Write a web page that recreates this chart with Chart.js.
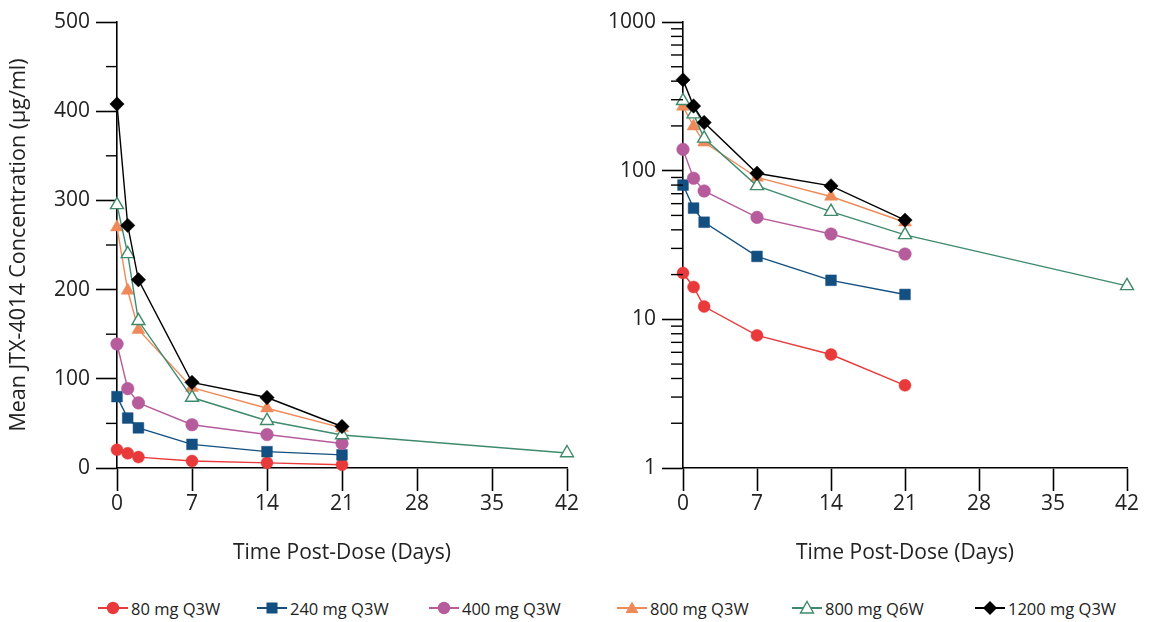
<!DOCTYPE html>
<html>
<head>
<meta charset="utf-8">
<script src="https://cdn.jsdelivr.net/npm/chart.js@4.4.1/dist/chart.umd.min.js"></script>
<style>
  html, body { margin: 0; padding: 0; background: #fff; }
  body { width: 1150px; height: 622px; position: relative; overflow: hidden; font-family: "Open Sans", sans-serif; color: #222; }
  #wrapL { position: absolute; left: 0; top: 0; width: 580px; height: 575px; }
  #wrapR { position: absolute; left: 580px; top: 0; width: 570px; height: 575px; }
  .lg { position: absolute; top: 598px; height: 20px; display: flex; align-items: center; font-size: 16.5px; white-space: nowrap; }
  .lg svg { margin-right: 2px; }
</style>
</head>
<body>
<div id="wrapL"><canvas id="cL"></canvas></div>
<div id="wrapR"><canvas id="cR"></canvas></div>
<div id="legend"></div>
<script>
// ---- data ----
const days = [0, 1, 2, 7, 14, 21];
const daysQ6W = [0, 1, 2, 7, 14, 21, 42];
const conc80Q3W = [20.5, 16.5, 12.2, 7.8, 5.8, 3.6];
const conc240Q3W = [80, 56, 45, 26.5, 18.3, 14.7];
const conc400Q3W = [139, 89, 73, 48.5, 37.5, 27.5];
const conc800Q3W = [270, 199, 155, 90, 67, 45];
const conc800Q6W = [295, 240, 165, 79, 53, 37, 16.8];
const conc1200Q3W = [408, 272, 211, 96, 79, 46.5];
const seriesLabels = ['80 mg Q3W', '240 mg Q3W', '400 mg Q3W', '800 mg Q3W', '800 mg Q6W', '1200 mg Q3W'];
const xTicks = [0, 7, 14, 21, 28, 35, 42];
const linYTicks = [0, 100, 200, 300, 400, 500];
const linYMinor = [50, 150, 250, 350, 450];
const logYTicks = [1, 10, 100, 1000];
const logYMinor = [2,3,4,5,6,7,8,9,20,30,40,50,60,70,80,90,200,300,400,500,600,700,800,900];

// ---- styles ----
const colors = ['#e8393b', '#134f80', '#b65b9b', '#ee8a5a', '#3e8a6c', '#000000'];
const styles = ['circle', 'rect', 'circle', 'triangle', 'triangle', 'rectRot'];
const radii = [6, 7.6, 6.3, 7.5, 7.5, 7.2];
const fills = [colors[0], colors[1], colors[2], colors[3], '#ffffff', colors[5]];
const FONT = "'Open Sans', sans-serif";
const TXT = '#222';

function toXY(xs, ys) { return ys.map((v, i) => ({ x: xs[i], y: v })); }
const seriesData = [
  toXY(days, conc80Q3W), toXY(days, conc240Q3W), toXY(days, conc400Q3W),
  toXY(days, conc800Q3W), toXY(daysQ6W, conc800Q6W), toXY(days, conc1200Q3W)
];

function makeDatasets() {
  return seriesData.map((d, i) => ({
    label: seriesLabels[i],
    data: d,
    borderColor: colors[i],
    backgroundColor: fills[i],
    borderWidth: 1.4,
    pointStyle: styles[i],
    pointRadius: radii[i],
    pointHoverRadius: radii[i],
    pointBackgroundColor: fills[i],
    pointBorderColor: colors[i],
    pointBorderWidth: i === 4 ? 1.4 : 0.5,
    tension: 0,
    clip: false,
    order: 5 - i
  }));
}

const minorTicks = {
  id: 'minorTicks',
  afterDraw(chart, args, opts) {
    const s = chart.scales.y;
    const ctx = chart.ctx;
    ctx.save();
    ctx.strokeStyle = '#000';
    ctx.lineWidth = 1.4;
    for (const v of opts.values) {
      const y = s.getPixelForValue(v);
      ctx.beginPath();
      ctx.moveTo(s.right - opts.len, y);
      ctx.lineTo(s.right, y);
      ctx.stroke();
    }
    ctx.restore();
  }
};

function xScale() {
  return {
    type: 'linear', min: 0, max: 42,
    afterBuildTicks: s => { s.ticks = xTicks.map(v => ({ value: v })); },
    afterFit: s => { s.height = 107; },
    border: { display: true, color: '#000', width: 1.6 },
    grid: { drawOnChartArea: false, drawTicks: true, tickLength: 23, tickColor: '#000', tickWidth: 1.6 },
    ticks: { color: TXT, font: { family: FONT, size: 21 }, padding: 0, maxRotation: 0 },
    title: { display: true, text: 'Time Post-Dose (Days)', color: TXT, font: { family: FONT, size: 21 }, padding: { top: 0, bottom: 9 } }
  };
}

function baseOptions() {
  return {
    responsive: true, maintainAspectRatio: false, animation: false,
    plugins: { legend: { display: false }, tooltip: { enabled: false } },
    events: []
  };
}

// ---- left (linear) ----
const optL = baseOptions();
optL.layout = { padding: { left: 0, top: 22, right: 13, bottom: 0 } };
optL.plugins.minorTicks = { values: linYMinor, len: 11 };
optL.scales = {
  x: xScale(),
  y: {
    type: 'linear', min: 0, max: 500,
    afterBuildTicks: s => { s.ticks = linYTicks.map(v => ({ value: v })); },
    afterFit: s => { s.width = 117; },
    border: { display: true, color: '#000', width: 1.6 },
    grid: { drawOnChartArea: false, drawTicks: true, tickLength: 21, tickColor: '#000', tickWidth: 1.6 },
    ticks: { color: TXT, font: { family: FONT, size: 21 }, padding: 6 },
    title: { display: true, text: 'Mean JTX-4014 Concentration (µg/ml)', color: TXT, font: { family: FONT, size: 21.5 }, padding: { top: 6, bottom: 0 } }
  }
};
new Chart(document.getElementById('cL'), { type: 'line', data: { datasets: makeDatasets() }, options: optL, plugins: [minorTicks] });

// ---- right (log) ----
const optR = baseOptions();
optR.layout = { padding: { left: 0, top: 22, right: 23, bottom: 0 } };
optR.plugins.minorTicks = { values: logYMinor, len: 12 };
optR.scales = {
  x: xScale(),
  y: {
    type: 'logarithmic', min: 1, max: 1000,
    afterBuildTicks: s => { s.ticks = logYTicks.map(v => ({ value: v })); },
    afterFit: s => { s.width = 103; },
    border: { display: true, color: '#000', width: 1.6 },
    grid: { drawOnChartArea: false, drawTicks: true, tickLength: 21, tickColor: '#000', tickWidth: 1.6 },
    ticks: { color: TXT, font: { family: FONT, size: 21 }, padding: 6, callback: v => String(v) }
  }
};
new Chart(document.getElementById('cR'), { type: 'line', data: { datasets: makeDatasets() }, options: optR, plugins: [minorTicks] });

// ---- legend (HTML) ----
const legendX = [97, 256, 428, 616, 791, 974];
function markerSvg(i) {
  const c = colors[i];
  let m = '';
  if (styles[i] === 'circle') m = `<circle cx="16" cy="9" r="6.2" fill="${c}"/>`;
  else if (styles[i] === 'rect') m = `<rect x="10.5" y="3.5" width="11" height="11" fill="${c}"/>`;
  else if (styles[i] === 'triangle') m = i === 4
    ? `<polygon points="16,2.5 22.5,14 9.5,14" fill="#fff" stroke="${c}" stroke-width="1.4"/>`
    : `<polygon points="16,2.5 22.5,14 9.5,14" fill="${c}"/>`;
  else m = `<polygon points="16,2 23,9 16,16 9,9" fill="${c}"/>`;
  return `<svg width="32" height="18" viewBox="0 0 32 18"><line x1="1" y1="9" x2="31" y2="9" stroke="${c}" stroke-width="2"/>${m}</svg>`;
}
const lg = document.getElementById('legend');
seriesLabels.forEach((t, i) => {
  const d = document.createElement('div');
  d.className = 'lg';
  d.style.left = legendX[i] + 'px';
  d.innerHTML = markerSvg(i) + '<span>' + t + '</span>';
  lg.appendChild(d);
});
</script>
</body>
</html>
